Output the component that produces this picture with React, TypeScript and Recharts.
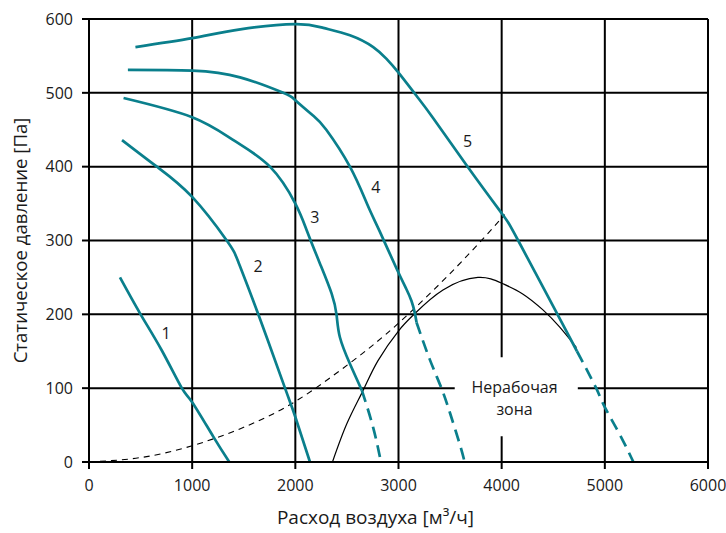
import React from 'react';
import { LineChart, Line, XAxis, YAxis, CartesianGrid, ReferenceArea, ReferenceDot } from 'recharts';

// Fan curves: [airflow m3/h, static pressure Pa]
const curve1 = [[300, 250], [500, 200], [706, 151], [900, 100], [1000, 81], [1206, 34], [1360, 0]];
const curve2 = [[320, 436], [658, 400], [1000, 359], [1335, 300], [1450, 270], [1641, 200], [1900, 100], [2000, 61], [2142, 0]];
const curve3 = [[335, 493], [1000, 467], [1400, 436], [1754, 400], [2000, 350], [2110, 314], [2238, 269], [2352, 228], [2400, 199], [2432, 169], [2529, 133], [2645, 97]];
const curve3Dash = [[2645, 97], [2754, 47], [2830, 0]];
const curve4 = [[377, 531], [1000, 530], [1464, 521], [1883, 500], [2000, 490], [2174, 469], [2300, 450], [2529, 400], [2700, 348], [2819, 312], [2981, 262], [3077, 234], [3126, 218], [3158, 202], [3175, 189]];
const curve4Dash = [[3175, 189], [3300, 140], [3416, 100], [3500, 66], [3594, 24], [3641, 0]];
const curve5 = [[450, 562], [1000, 574], [1466, 586], [2000, 593], [2271, 588], [2529, 578], [2755, 562], [2884, 546], [2996, 528], [3174, 496], [3335, 466], [3670, 400], [4000, 337], [4160, 300], [4545, 199], [4730, 150]];
const curve5Dash = [[4730, 150], [4916, 100], [4997, 75], [5142, 38], [5277, 0]];
const systemCurve = [[0, 0], [500, 6], [1000, 22], [1500, 47], [2000, 82], [2529, 134], [3000, 188], [3561, 264], [4030, 335]];
const boundary = [[2360, 0], [2500, 52], [2657, 97], [2800, 137], [3003, 178], [3158, 201], [3431, 233], [3770, 250], [4003, 242], [4200, 228], [4400, 206], [4561, 183], [4725, 155]];

const xTicks = [0, 1000, 2000, 3000, 4000, 5000, 6000];
const yTicks = [0, 100, 200, 300, 400, 500, 600];

const curveLabels = [
  { x: 748, y: 174, text: '1' },
  { x: 1639, y: 265, text: '2' },
  { x: 2190, y: 332, text: '3' },
  { x: 2780, y: 372, text: '4' },
  { x: 3670, y: 435, text: '5' },
];
const zoneLabels = [
  { x: 4125, y: 101, text: 'Нерабочая' },
  { x: 4125, y: 72, text: 'зона' },
];
const zoneBox = { x1: 3545, x2: 4738, y1: 35, y2: 142 };

const toPts = (arr: number[][]) => arr.map(([x, y]) => ({ x, y }));

const FONT = '"Open Sans", "Noto Sans", sans-serif';
const TEAL = '#0a7f8c';
const TXT = '#1a1a1a';

const XTitle = (props: any) => {
  const vb = props.viewBox;
  return (
    <text x={vb.x + vb.width / 2 - 23} y={vb.y + 62} textAnchor="middle" fontSize={19} fontFamily={FONT} fill={TXT}>
      Расход воздуха [м³/ч]
    </text>
  );
};

const YTitle = (props: any) => {
  const vb = props.viewBox;
  const x = 27;
  const y = vb.y + vb.height / 2;
  return (
    <text x={x} y={y} transform={`rotate(-90 ${x} ${y})`} textAnchor="middle" fontSize={18.6} fontFamily={FONT} fill={TXT}>
      Статическое давление [Па]
    </text>
  );
};

export default function App() {
  const tealLine = (data: number[][], key: string, dashed = false) => (
    <Line
      key={key}
      data={toPts(data)}
      dataKey="y"
      type="natural"
      stroke={TEAL}
      strokeWidth={2.7}
      strokeDasharray={dashed ? '12 7' : undefined}
      dot={false}
      activeDot={false}
      isAnimationActive={false}
    />
  );
  return (
    <div style={{ position: 'absolute', left: 0, top: 0, width: 726, height: 533, background: '#fff' }}>
      <LineChart width={726} height={533} margin={{ top: 19, right: 18, bottom: 41, left: 29 }}>
        <CartesianGrid stroke="#000" strokeWidth={2} strokeOpacity={1} />
        <XAxis
          type="number"
          dataKey="x"
          domain={[0, 6000]}
          ticks={xTicks}
          interval={0}
          allowDuplicatedCategory={false}
          height={30}
          tickSize={7}
          tickMargin={11}
          axisLine={{ stroke: '#000', strokeWidth: 2 }}
          tickLine={{ stroke: '#000', strokeWidth: 2 }}
          tick={{ fontSize: 16, fill: TXT, fontFamily: FONT }}
          label={{ content: XTitle }}
        />
        <YAxis
          type="number"
          domain={[0, 600]}
          ticks={yTicks}
          interval={0}
          width={60}
          tickSize={7}
          tickMargin={9}
          axisLine={{ stroke: '#000', strokeWidth: 2 }}
          tickLine={{ stroke: '#000', strokeWidth: 2 }}
          tick={{ fontSize: 16, fill: TXT, fontFamily: FONT }}
          label={{ content: YTitle }}
        />
        <ReferenceArea x1={zoneBox.x1} x2={zoneBox.x2} y1={zoneBox.y1} y2={zoneBox.y2} fill="#fff" fillOpacity={1} stroke="none" />
        <Line data={toPts(systemCurve)} dataKey="y" type="natural" stroke="#000" strokeWidth={1.1} strokeDasharray="6 5" dot={false} activeDot={false} isAnimationActive={false} />
        <Line data={toPts(boundary)} dataKey="y" type="natural" stroke="#000" strokeWidth={1.2} dot={false} activeDot={false} isAnimationActive={false} />
        {tealLine(curve1, 'c1')}
        {tealLine(curve2, 'c2')}
        {tealLine(curve3, 'c3')}
        {tealLine(curve3Dash, 'c3d', true)}
        {tealLine(curve4, 'c4')}
        {tealLine(curve4Dash, 'c4d', true)}
        {tealLine(curve5, 'c5')}
        {tealLine(curve5Dash, 'c5d', true)}
        {curveLabels.map((l) => (
          <ReferenceDot key={l.text} x={l.x} y={l.y} r={0} fill="none" stroke="none"
            label={{ value: l.text, position: 'center', fontSize: 16, fill: TXT, fontFamily: FONT }} />
        ))}
        {zoneLabels.map((l) => (
          <ReferenceDot key={l.text} x={l.x} y={l.y} r={0} fill="none" stroke="none"
            label={{ value: l.text, position: 'center', fontSize: 16, fill: TXT, fontFamily: FONT }} />
        ))}
      </LineChart>
    </div>
  );
}
